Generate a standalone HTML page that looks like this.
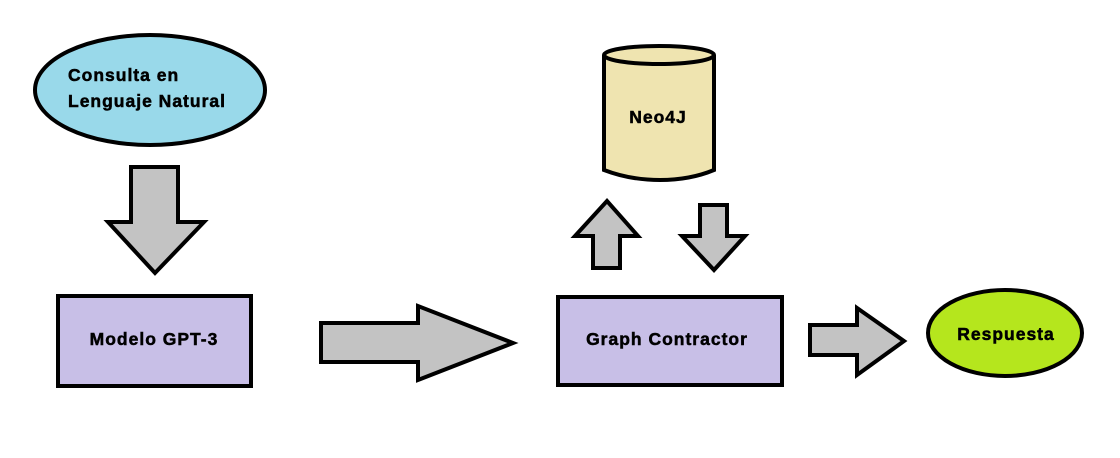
<!DOCTYPE html>
<html><head><meta charset="utf-8"><style>body{margin:0;background:#fff}svg{display:block}text{font-family:"Liberation Sans",Arial,sans-serif;font-weight:bold;font-size:17.5px;letter-spacing:1px;fill:#000;stroke:#000;stroke-width:0.5}</style></head>
<body>
<svg width="1120" height="458" viewBox="0 0 1120 458" xmlns="http://www.w3.org/2000/svg">
<g stroke="#000" stroke-width="4" stroke-linejoin="miter">
<ellipse cx="150" cy="90" rx="115" ry="55" fill="#99d9ea"/>
<polygon points="131,167 178,167 178,222 204,222 155,273 108,222 131,222" fill="#c3c3c3"/>
<rect x="58" y="296" width="193" height="90" fill="#c8bfe7"/>
<polygon points="321,323 418,323 418,306 513,343 418,380 418,362 321,362" fill="#c3c3c3"/>
<path d="M604,55 L604,170 Q630,180 660,180 Q690,180 714,170 L714,55" fill="#efe4b0"/>
<ellipse cx="659" cy="55" rx="55" ry="9" fill="#efe4b0"/>
<polygon points="593,268 620,268 620,236 638,236 607,201 575,236 593,236" fill="#c3c3c3"/>
<polygon points="700,205 727,205 727,236 745,236 714,270 682,236 700,236" fill="#c3c3c3"/>
<rect x="558" y="297" width="224" height="88" fill="#c8bfe7"/>
<polygon points="810,325 857,325 857,308 904,341 857,375 857,355 810,355" fill="#c3c3c3"/>
<ellipse cx="1005" cy="333" rx="77" ry="43" fill="#b5e61d"/>
</g>
<text x="68" y="81">Consulta en</text>
<text x="68" y="107">Lenguaje Natural</text>
<text x="154" y="345" text-anchor="middle">Modelo GPT-3</text>
<text x="658" y="123" text-anchor="middle">Neo4J</text>
<text x="667" y="345" text-anchor="middle">Graph Contractor</text>
<text x="1006" y="340" text-anchor="middle">Respuesta</text>
</svg>
</body></html>
